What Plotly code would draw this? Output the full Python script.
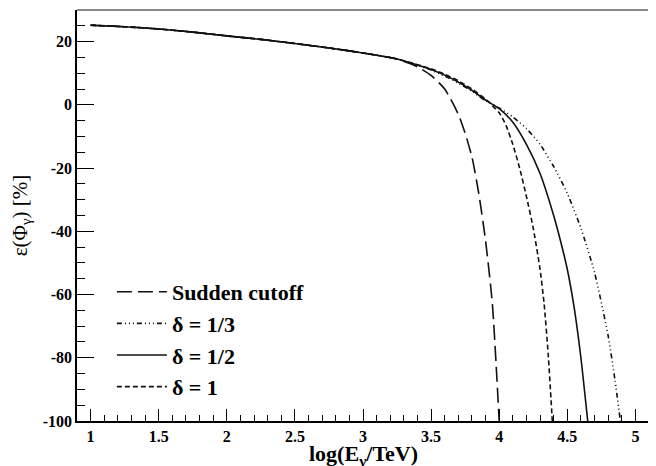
import plotly.graph_objects as go

# shared low-energy part of all curves
x_common = [1.0, 1.25, 1.5, 1.75, 2.0, 2.25, 2.5, 2.75, 3.0, 3.25]
y_common = [25.2, 24.7, 24.0, 23.0, 21.8, 20.7, 19.4, 18.0, 16.4, 14.5]

x_sudden = [3.4, 3.5, 3.6, 3.7, 3.75, 3.8, 3.85, 3.9, 3.95, 4.0]
y_sudden = [12.0, 9.3, 5.0, -3.0, -9.0, -16.5, -28.0, -43.0, -63.0, -100.0]

x_d13 = [3.4, 3.5, 3.6, 3.7, 3.8, 3.9, 4.0, 4.1, 4.2, 4.3, 4.4, 4.5, 4.6, 4.7, 4.8, 4.85, 4.89]
y_d13 = [12.5, 11.0, 9.1, 6.9, 4.3, 1.3, -1.0, -3.8, -7.5, -12.5, -19.5, -28.0, -39.0, -53.0, -73.0, -87.0, -100.0]

x_d12 = [3.4, 3.5, 3.6, 3.7, 3.8, 3.9, 4.0, 4.1, 4.2, 4.3, 4.4, 4.45, 4.5, 4.55, 4.6, 4.65]
y_d12 = [12.6, 11.2, 9.4, 7.2, 4.6, 1.5, -1.2, -5.5, -12.5, -21.7, -35.0, -43.0, -52.0, -64.0, -80.0, -100.0]

x_d1 = [3.4, 3.5, 3.6, 3.7, 3.8, 3.9, 4.0, 4.05, 4.1, 4.15, 4.2, 4.25, 4.3, 4.33, 4.36, 4.39]
y_d1 = [12.7, 11.4, 9.7, 7.6, 5.0, 1.8, -2.5, -6.5, -12.5, -20.0, -29.0, -39.0, -52.0, -63.0, -79.0, -100.0]

x_tickvals = [1, 1.5, 2, 2.5, 3, 3.5, 4, 4.5, 5]
x_ticktext = ["1", "1.5", "2", "2.5", "3", "3.5", "4", "4.5", "5"]
y_tickvals = [-100, -80, -60, -40, -20, 0, 20]
y_ticktext = ["-100", "-80", "-60", "-40", "-20", "0", "20"]

names = ["<b>Sudden cutoff</b>", "<b>δ = 1/3</b>", "<b>δ = 1/2</b>", "<b>δ = 1</b>"]
tails = [(x_sudden, y_sudden), (x_d13, y_d13), (x_d12, y_d12), (x_d1, y_d1)]
dashes = ["15px,6px", "5px,3px,1px,3px,1px,3px,1px,3px", "solid", "5px,3px"]

FONT = "Liberation Serif"
fig = go.Figure()
for name, (xt, yt), dash in zip(names, tails, dashes):
    fig.add_trace(go.Scatter(
        x=x_common + xt, y=y_common + yt, mode="lines", name=name,
        line=dict(color="#111111", width=1.6, dash=dash, shape="spline", smoothing=0.6),
    ))

fig.update_layout(
    width=648, height=458,
    margin=dict(l=69, r=7, t=2, b=45),
    paper_bgcolor="white", plot_bgcolor="white",
    font=dict(family=FONT, color="black", size=16),
    showlegend=True,
    legend=dict(
        x=0.061, y=0.365, xanchor="left", yanchor="top",
        bgcolor="rgba(0,0,0,0)", borderwidth=0,
        font=dict(family=FONT, size=22, color="black"),
        itemwidth=50,
    ),
    xaxis=dict(
        range=[0.9, 5.1], tickmode="array", tickvals=x_tickvals, ticktext=x_ticktext,
        showgrid=False, zeroline=False, automargin=False,
        showline=True, linecolor="black", linewidth=1.5,
        ticks="inside", ticklen=12, tickwidth=1, tickcolor="black",
        minor=dict(ticks="inside", ticklen=6, dtick=0.1, tick0=1, tickcolor="black", showgrid=False),
        tickfont=dict(family=FONT, size=16, color="black", weight="bold"),
    ),
    yaxis=dict(
        range=[-100, 30], tickmode="array", tickvals=y_tickvals, ticktext=y_ticktext,
        showgrid=False, zeroline=False, automargin=False,
        showline=True, linecolor="black", linewidth=1.5,
        ticks="inside", ticklen=17, tickwidth=1, tickcolor="black",
        minor=dict(ticks="inside", ticklen=8, dtick=5, tick0=0, tickcolor="black", showgrid=False),
        tickfont=dict(family=FONT, size=16, color="black", weight="bold"),
        title=dict(text="ε(Φ<sub>γ</sub>) [%]", font=dict(family=FONT, size=21), standoff=10),
    ),
    annotations=[
        dict(text="<b>log(E<sub>γ</sub>/TeV)</b>", xref="paper", yref="paper",
             x=0.5, y=-0.082, xanchor="center", yanchor="middle", showarrow=False,
             font=dict(family=FONT, size=22, color="black")),
    ],
    shapes=[
        dict(type="line", xref="paper", yref="paper", x0=0, x1=1, y0=1, y1=1,
             line=dict(color="#888888", width=2)),
        dict(type="line", xref="paper", yref="paper", x0=1, x1=1, y0=0, y1=1,
             line=dict(color="#888888", width=2)),
    ],
)

fig.write_html("out.html")
